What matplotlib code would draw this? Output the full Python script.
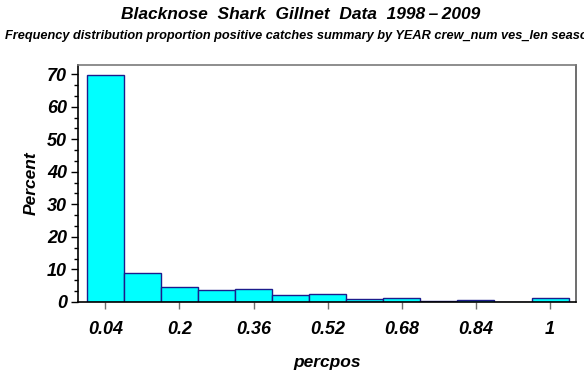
"""histogram of proportion positive catches, blacknose shark gillnet data"""
import matplotlib
matplotlib.use('Agg')
import matplotlib.pyplot as plt
from matplotlib.ticker import MultipleLocator

# bin midpoints (bin width 0.08) and percent in each bin
MIDPOINTS = [0.04, 0.12, 0.20, 0.28, 0.36, 0.44, 0.52, 0.60, 0.68, 0.76, 0.84, 0.92, 1.00]
PERCENT = [69.6, 9.0, 4.7, 3.7, 4.1, 2.25, 2.45, 0.8, 1.1, 0.3, 0.7, 0.0, 1.3]
XTICKS = [0.04, 0.2, 0.36, 0.52, 0.68, 0.84, 1.0]
XTICKLABELS = ['0.04', '0.2', '0.36', '0.52', '0.68', '0.84', '1']

plt.rcParams['font.family'] = ['Liberation Sans', 'DejaVu Sans']
FONT = dict(weight='bold', style='italic')

fig = plt.figure(figsize=(5.84, 3.72), dpi=100)
ax = fig.add_axes([0.1336, 0.1882, 0.8527, 0.637])

ax.bar(MIDPOINTS, PERCENT, width=0.08, color='#00FFFF',
       edgecolor='#1c1c8c', linewidth=1.0)

ax.set_xlim(-0.019, 1.056)
ax.set_ylim(0, 72.8)
ax.set_xticks(XTICKS)
ax.set_xticklabels(XTICKLABELS, fontsize=13, **FONT)
ax.yaxis.set_major_locator(MultipleLocator(10))
ax.yaxis.set_minor_locator(MultipleLocator(10 / 3))
for lab in ax.get_yticklabels():
  lab.set_fontsize(13)
  lab.set_fontweight('bold')
  lab.set_fontstyle('italic')

ax.tick_params(axis='x', length=5, width=1, color='#707070', pad=9)
ax.tick_params(axis='y', which='major', length=5, width=1, pad=3)
ax.tick_params(axis='y', which='minor', length=3, width=1)

ax.spines['left'].set_color('black')
ax.spines['bottom'].set_color('black')
ax.spines['top'].set_color('#7a7a7a')
ax.spines['right'].set_color('#555555')
for s in ax.spines.values():
  s.set_linewidth(1.2)

ax.set_xlabel('percpos', fontsize=12.5, labelpad=12, **FONT)
ax.set_ylabel('Percent', fontsize=12.5, labelpad=6, **FONT)

fig.text(0.515, 0.96, 'Blacknose  Shark  Gillnet  Data  1998\u2009\u2013\u20092009',
         ha='center', va='center', fontsize=12.5, **FONT)
fig.text(0.008, 0.904, 'Frequency distribution proportion positive catches summary by YEAR crew_num ves_len season',
         ha='left', va='center', fontsize=9.2, **FONT)

plt.savefig('out.png', dpi=100)
